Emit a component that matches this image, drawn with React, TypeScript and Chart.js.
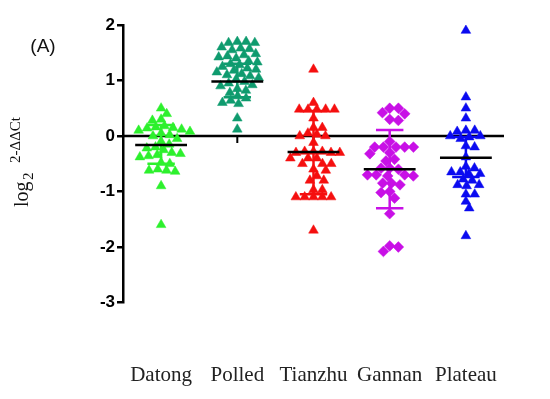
import React, { useEffect, useRef } from "react";
import { Chart, registerables } from "chart.js";

Chart.register(...registerables);

const categories = ["Datong", "Polled", "Tianzhu", "Gannan", "Plateau"];

const datong = [0.5, 0.4, 0.3, 0.28, 0.18, 0.16, 0.15, 0.14, 0.12, 0.1, 0.08, 0.05, 0.02, 0.0, -0.05, -0.1, -0.15, -0.2, -0.22, -0.25, -0.3, -0.32, -0.34, -0.36, -0.38, -0.48, -0.5, -0.6, -0.62, -0.62, -0.64, -0.9, -1.6];
const polled = [1.7, 1.7, 1.68, 1.68, 1.6, 1.58, 1.57, 1.55, 1.48, 1.46, 1.44, 1.42, 1.4, 1.35, 1.33, 1.3, 1.28, 1.25, 1.22, 1.2, 1.18, 1.15, 1.12, 1.1, 1.08, 1.05, 1.02, 0.98, 0.95, 0.92, 0.9, 0.85, 0.82, 0.78, 0.72, 0.68, 0.64, 0.6, 0.58, 0.32, 0.12];
const tianzhu = [1.2, 0.6, 0.48, 0.48, 0.48, 0.48, 0.48, 0.32, 0.15, 0.15, 0.05, 0.03, 0.0, 0.0, -0.12, -0.28, -0.28, -0.28, -0.3, -0.3, -0.3, -0.4, -0.4, -0.4, -0.5, -0.5, -0.5, -0.6, -0.62, -0.72, -0.8, -0.8, -0.97, -0.97, -1.1, -1.1, -1.1, -1.1, -1.1, -1.7];
const gannan = [0.5, 0.5, 0.42, 0.4, 0.3, 0.28, -0.1, -0.2, -0.2, -0.2, -0.2, -0.2, -0.3, -0.32, -0.42, -0.45, -0.58, -0.58, -0.6, -0.7, -0.7, -0.7, -0.72, -0.72, -0.85, -0.85, -0.88, -1.0, -1.02, -1.12, -1.4, -1.98, -2.0, -2.08];
const plateau = [1.9, 0.7, 0.5, 0.32, 0.1, 0.1, 0.08, 0.0, 0.0, -0.02, -0.05, -0.18, -0.2, -0.38, -0.55, -0.58, -0.65, -0.65, -0.68, -0.68, -0.78, -0.8, -0.88, -0.88, -0.9, -1.05, -1.05, -1.18, -1.3, -1.8];

const groups = [datong, polled, tianzhu, gannan, plateau];
const means = [-0.16, 0.98, -0.29, -0.6, -0.39];
const errUpper = [0.2, 1.3, 0.45, 0.11, -0.02];
const errLower = [-0.5, 0.7, -1.05, -1.3, -0.74];
const yTicks = [-3, -2, -1, 0, 1, 2];

const colors = ["#2df02d", "#0f9b6e", "#f50f0f", "#c810e6", "#0a0af0"];
const shapes = ["triangle", "triangle", "triangle", "rectRot", "triangle"];

// beeswarm offsets computed from values (approximate pixel ratios of the plot)
function swarm(values: number[], pxPerY: number, pxPerX: number, w: number, h: number): number[] {
  const placed: { x: number; y: number }[] = [];
  const order = values.map((_, i) => i).sort((a, b) => values[b] - values[a]);
  const offs = new Array(values.length).fill(0);
  for (const i of order) {
    const y = values[i] * pxPerY;
    const cands = [0];
    for (const p of placed) {
      const dy = Math.abs(p.y - y);
      if (dy < h) {
        const dx = w * Math.sqrt(1 - (dy / h) * (dy / h));
        cands.push(p.x + dx, p.x - dx);
      }
    }
    cands.sort((a, b) => Math.abs(a) - Math.abs(b));
    let chosen = 0;
    for (const c of cands) {
      const ok = placed.every((p) => ((p.x - c) / w) ** 2 + ((p.y - y) / h) ** 2 >= 1 - 1e-6);
      if (ok) { chosen = c; break; }
    }
    placed.push({ x: chosen, y });
    offs[i] = chosen / pxPerX;
  }
  return offs;
}

const decorPlugin = {
  id: "decor",
  beforeDatasetsDraw(chart: any) {
    const { ctx, scales } = chart;
    const xs = scales.x, ys = scales.y;
    const y0 = ys.getPixelForValue(0);
    ctx.save();
    ctx.strokeStyle = "#000";
    ctx.lineWidth = 2.5;
    ctx.beginPath();
    ctx.moveTo(xs.getPixelForValue(0.5), y0);
    ctx.lineTo(xs.getPixelForValue(5.5), y0);
    ctx.stroke();
    ctx.lineWidth = 2;
    categories.forEach((_, i) => {
      const px = xs.getPixelForValue(i + 1);
      ctx.beginPath();
      ctx.moveTo(px, y0);
      ctx.lineTo(px, y0 + 7);
      ctx.stroke();
    });
    ctx.restore();
  },
  afterDatasetsDraw(chart: any) {
    const { ctx, scales } = chart;
    const xs = scales.x, ys = scales.y;
    ctx.save();
    categories.forEach((_, i) => {
      const c = i + 1;
      ctx.strokeStyle = colors[i];
      ctx.lineWidth = 2.5;
      const xl = xs.getPixelForValue(c - 0.18), xr = xs.getPixelForValue(c + 0.18);
      const xc = xs.getPixelForValue(c);
      const yu = ys.getPixelForValue(errUpper[i]), yl = ys.getPixelForValue(errLower[i]);
      ctx.beginPath();
      ctx.moveTo(xc, yu); ctx.lineTo(xc, yl);
      ctx.moveTo(xl, yu); ctx.lineTo(xr, yu);
      ctx.moveTo(xl, yl); ctx.lineTo(xr, yl);
      ctx.stroke();
    });
    categories.forEach((_, i) => {
      const c = i + 1;
      ctx.strokeStyle = "#000";
      ctx.lineWidth = 2.5;
      const ym = ys.getPixelForValue(means[i]);
      ctx.beginPath();
      ctx.moveTo(xs.getPixelForValue(c - 0.34), ym);
      ctx.lineTo(xs.getPixelForValue(c + 0.34), ym);
      ctx.stroke();
    });
    ctx.restore();
  },
  afterDraw(chart: any) {
    const { ctx } = chart;
    ctx.save();
    ctx.fillStyle = "#111";
    ctx.font = '19px "Liberation Sans", Arial, sans-serif';
    ctx.textAlign = "center";
    ctx.textBaseline = "middle";
    ctx.fillText("(A)", 43, 47);

    ctx.translate(28, 207);
    ctx.rotate(-Math.PI / 2);
    ctx.textAlign = "left";
    ctx.textBaseline = "alphabetic";
    ctx.font = '20px "Liberation Serif", serif';
    ctx.fillText("log", 0, 0);
    ctx.font = '15px "Liberation Serif", serif';
    ctx.fillText("2", 27, 5);
    ctx.fillText("2-ΔΔCt", 44, -8);
    ctx.restore();
  },
};

export default function App() {
  const canvasRef = useRef<HTMLCanvasElement | null>(null);

  useEffect(() => {
    if (!canvasRef.current) return;
    const datasets = groups.map((vals, i) => {
      const isDiamond = shapes[i] === "rectRot";
      const offs = swarm(vals, 55.5, 83, isDiamond ? 9.5 : 9.6, isDiamond ? 8 : 7.2);
      return {
        label: categories[i],
        data: vals.map((v, k) => ({ x: i + 1 + offs[k], y: v })),
        pointStyle: shapes[i],
        pointRadius: isDiamond ? 5.4 : 5.6,
        pointHoverRadius: 6,
        backgroundColor: colors[i],
        borderColor: colors[i],
        borderWidth: 0.5,
        showLine: false,
      };
    });
    const chart = new Chart(canvasRef.current, {
      type: "scatter",
      data: { datasets },
      options: {
        animation: false,
        responsive: false,
        devicePixelRatio: 1,
        layout: { padding: { left: 0, right: 12, top: 25, bottom: 12 } },
        plugins: { legend: { display: false }, tooltip: { enabled: false } },
        scales: {
          x: {
            type: "linear",
            min: 0.5,
            max: 5.5,
            grid: { display: false },
            border: { display: false },
            afterFit: (scale: any) => { scale.height = 84.5; },
            afterBuildTicks: (scale: any) => {
              scale.ticks = categories.map((_, i) => ({ value: i + 1 }));
            },
            ticks: {
              padding: 52,
              maxRotation: 0,
              autoSkip: false,
              color: "#222",
              font: { family: '"Liberation Serif", serif', size: 21 },
              callback: (v: any) => categories[Math.round(Number(v)) - 1] ?? "",
            },
          },
          y: {
            type: "linear",
            min: -3,
            max: 2,
            afterFit: (scale: any) => { scale.width = 123; },
            afterBuildTicks: (scale: any) => {
              scale.ticks = yTicks.map((v) => ({ value: v }));
            },
            grid: { drawOnChartArea: false, drawTicks: true, tickLength: 6, lineWidth: 2.5, color: "#000" },
            border: { display: true, width: 2.5, color: "#000" },
            ticks: {
              padding: 2,
              color: "#000",
              font: { family: '"Liberation Sans", Arial, sans-serif', size: 17, weight: "bold" },
            },
          },
        },
      },
      plugins: [decorPlugin],
    });
    return () => chart.destroy();
  }, []);

  return (
    <div style={{ position: "absolute", left: 0, top: 0, width: 550, height: 399, background: "#fff" }}>
      <canvas ref={canvasRef} width={550} height={399} style={{ width: 550, height: 399 }} />
    </div>
  );
}
